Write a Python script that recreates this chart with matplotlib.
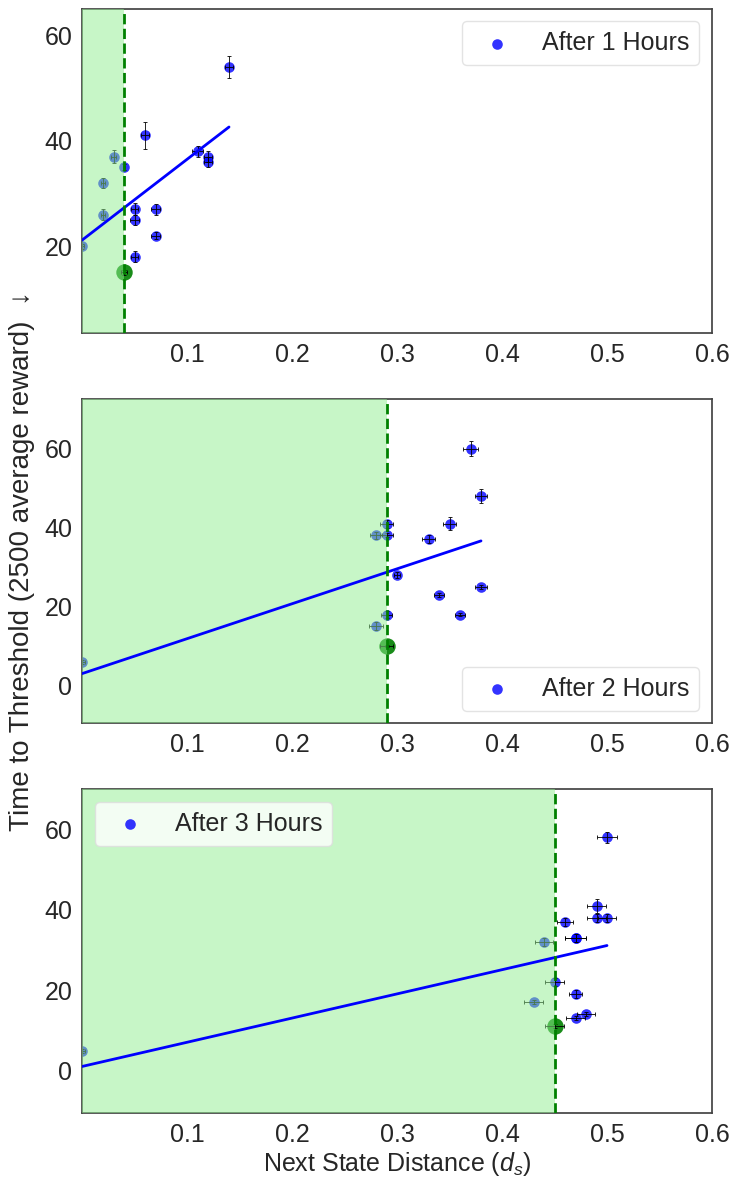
import numpy as np
import matplotlib
matplotlib.use('Agg')
import matplotlib.pyplot as plt
from matplotlib.ticker import MultipleLocator
import seaborn as sns

sns.set_style('white')
plt.rcParams['font.family'] = ['Liberation Sans', 'DejaVu Sans']
plt.rcParams['mathtext.fontset'] = 'custom'
plt.rcParams['mathtext.it'] = 'Liberation Sans:italic'
plt.rcParams['mathtext.rm'] = 'Liberation Sans'

#------------------------------------------------------------------------------
# DATA: next state distance vs. time to threshold for each training length

# After 1 hour
x1 = [0.00, 0.02, 0.02, 0.03, 0.04, 0.05, 0.05, 0.05, 0.06, 0.07, 0.07, 0.11, 0.12, 0.12, 0.14]
y1 = [20, 26, 32, 37, 35, 27, 25, 18, 41, 27, 22, 38, 37, 36, 54]
xerr1 = [0.002, 0.002, 0.002, 0.002, 0.001, 0.003, 0.004, 0.003, 0.004, 0.004, 0.004, 0.005, 0.004, 0.004, 0.004]
yerr1 = [0.5, 1.0, 1.0, 1.2, 0.5, 1.1, 1.0, 1.0, 2.6, 1.0, 0.6, 1.0, 1.0, 1.0, 2.1]
best1 = (0.04, 15, 0.003, 0.5)   # x, y, xerr, yerr of the threshold point

# After 2 hours
x2 = [0.00, 0.28, 0.28, 0.29, 0.29, 0.29, 0.30, 0.33, 0.34, 0.35, 0.36, 0.37, 0.38, 0.38]
y2 = [6, 15, 38, 18, 38, 41, 28, 37, 23, 41, 18, 60, 25, 48]
xerr2 = [0.003, 0.007, 0.006, 0.005, 0.006, 0.006, 0.003, 0.006, 0.005, 0.006, 0.005, 0.007, 0.006, 0.006]
yerr2 = [0.5, 1.0, 1.0, 1.0, 0.5, 1.0, 0.8, 1.0, 0.5, 1.7, 0.5, 1.8, 0.5, 1.7]
best2 = (0.29, 10, 0.006, 0.3)

# After 3 hours
x3 = [0.00, 0.43, 0.44, 0.45, 0.46, 0.47, 0.47, 0.47, 0.47, 0.48, 0.49, 0.49, 0.50, 0.50]
y3 = [5, 17, 32, 22, 37, 33, 33, 19, 13, 14, 41, 38, 38, 58]
xerr3 = [0.003, 0.009, 0.009, 0.009, 0.008, 0.010, 0.010, 0.006, 0.009, 0.009, 0.009, 0.009, 0.009, 0.010]
yerr3 = [0.5, 0.5, 1.0, 1.0, 1.0, 1.0, 1.0, 1.0, 0.5, 0.5, 1.8, 1.0, 1.0, 1.3]
best3 = (0.45, 11, 0.009, 0.5)

labels = ['After 1 Hours', 'After 2 Hours', 'After 3 Hours']
legend_locs = ['upper right', 'lower right', 'upper left']
ylims = [(3.5, 65), (-9.5, 72.5), (-10.6, 70)]
xticks = [0.1, 0.2, 0.3, 0.4, 0.5, 0.6]

panels = [(x1, y1, xerr1, yerr1, best1),
          (x2, y2, xerr2, yerr2, best2),
          (x3, y3, xerr3, yerr3, best3)]

#------------------------------------------------------------------------------
# PLOT

fig, axes = plt.subplots(3, 1, figsize=(7.35, 11.83), dpi=100)
plt.subplots_adjust(left=0.1116, right=0.9687, bottom=0.0589, top=0.9924, hspace=0.2037)

for i, ax in enumerate(axes):
    x, y, xe, ye, best = panels[i]
    bx, by, bxe, bye = best

    # points and their error bars
    ax.scatter(x, y, s=58, color='blue', alpha=0.8, linewidths=0, zorder=2, label=labels[i])
    ax.errorbar(x, y, xerr=xe, yerr=ye, fmt='none', ecolor='black', elinewidth=0.6,
                capsize=1.5, capthick=0.6, zorder=2.5)
    ax.scatter([bx], [by], s=140, color='green', alpha=0.9, linewidths=0, zorder=2)
    ax.errorbar([bx], [by], xerr=[bxe], yerr=[bye], fmt='none', ecolor='black',
                elinewidth=0.6, capsize=1.5, capthick=0.6, zorder=2.5)

    # shade everything below the threshold distance
    ax.axvspan(0, bx, color='lightgreen', alpha=0.5, linewidth=0, zorder=3)

    # linear fit over all points
    xa = np.array(x + [bx])
    ya = np.array(y + [by])
    m, c = np.polyfit(xa, ya, 1)
    xx = np.array([xa.min(), xa.max()])
    ax.plot(xx, m * xx + c, color='blue', linewidth=2, zorder=4)

    ax.axvline(bx, color='green', linestyle='--', linewidth=2, zorder=5)

    ax.set_xlim(0, 0.6)
    ax.set_ylim(*ylims[i])
    ax.set_xticks(xticks)
    ax.yaxis.set_major_locator(MultipleLocator(20))
    ax.tick_params(labelsize=18)
    for sp in ax.spines.values():
        sp.set_color('#444444')
        sp.set_linewidth(1.25)

    ax.legend(loc=legend_locs[i], fontsize=18, scatterpoints=1, frameon=True,
              framealpha=0.8, edgecolor='#dddddd')

axes[2].set_xlabel('Next State Distance ($d_s$)', fontsize=18, labelpad=2)
fig.text(0.030, 0.5258, 'Time to Threshold (2500 average reward)  \u2193', rotation=90,
         fontsize=20, ha='center', va='center', color='.15')

fig.savefig('out.png', dpi=100)
